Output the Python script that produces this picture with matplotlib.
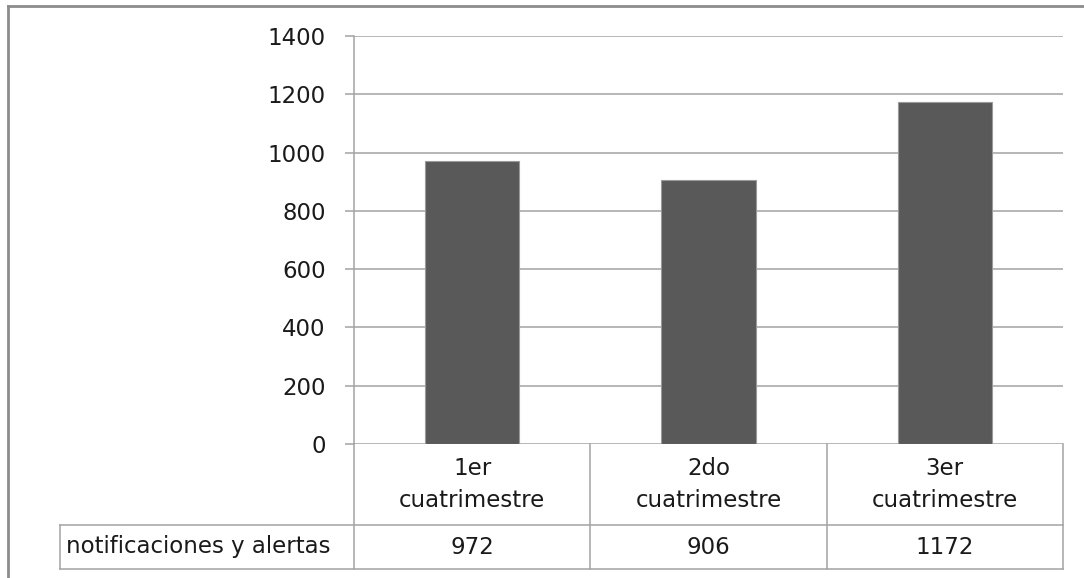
import matplotlib.pyplot as plt
from matplotlib.lines import Line2D

categorias = ['1er\ncuatrimestre', '2do\ncuatrimestre', '3er\ncuatrimestre']
serie = 'notificaciones y alertas'
valores = [972, 906, 1172]
yticks = [0, 200, 400, 600, 800, 1000, 1200, 1400]

plt.rcParams['font.family'] = ['DejaVu Sans']
W, H = 1084, 578
fig = plt.figure(figsize=(W / 100, H / 100), dpi=100)

# plot area in pixels
x0, x1, ytop, ybot = 354, 1063, 36, 444
ax = fig.add_axes([x0 / W, 1 - ybot / H, (x1 - x0) / W, (ybot - ytop) / H])

gris = '#a3a3a3'
tc = '#1a1a1a'
fs = 16.5
x = range(len(valores))
ax.bar(x, valores, width=0.4, color='#595959', edgecolor='#9a9a9a', linewidth=0.8, zorder=3)
ax.set_xlim(-0.5, len(valores) - 0.5)
ax.set_ylim(0, 1400)
ax.set_yticks(yticks)
ax.yaxis.grid(True, color=gris, linewidth=1.1, zorder=0)
ax.set_xticks([])
for s in ['top', 'right', 'bottom']:
    ax.spines[s].set_visible(False)
ax.spines['left'].set_color(gris)
ax.spines['left'].set_linewidth(1.1)
ax.tick_params(axis='y', direction='out', length=6.5, width=1.1, color=gris,
               pad=14, labelsize=fs, labelcolor=tc)

# data table below the axis
px_y = (ybot - ytop)
r1 = -(525 - ybot) / px_y
r2 = -(569 - ybot) / px_y
unit = (x1 - x0) / len(valores)
xl = -0.5 - (x0 - 60) / unit
tr = ax.get_xaxis_transform()
kw = dict(transform=tr, color=gris, linewidth=1.1, clip_on=False)
for b in [i - 0.5 for i in range(len(valores) + 1)]:
    ax.plot([b, b], [0, r2], **kw)
ax.plot([xl, xl], [r1, r2], **kw)
ax.plot([xl, len(valores) - 0.5], [r1, r1], **kw)
ax.plot([xl, len(valores) - 0.5], [r2, r2], **kw)

for i, (c, v) in enumerate(zip(categorias, valores)):
    ax.text(i, r1 / 2, c, transform=tr, ha='center', va='center', fontsize=fs,
            linespacing=1.45, color=tc)
    ax.text(i, (r1 + r2) / 2, str(v), transform=tr, ha='center', va='center',
            fontsize=fs, color=tc)
ax.text(xl + 0.025, (r1 + r2) / 2, serie, transform=tr, ha='left', va='center',
        fontsize=fs, color=tc)

# outer chart border
fig.add_artist(Line2D([8 / W, 8 / W], [0, 1 - 6 / H], transform=fig.transFigure,
                      color='#8c8c8c', linewidth=2))
fig.add_artist(Line2D([8 / W, 1], [1 - 6 / H, 1 - 6 / H], transform=fig.transFigure,
                      color='#8c8c8c', linewidth=2))

fig.savefig('out.png', dpi=100, facecolor='white')
